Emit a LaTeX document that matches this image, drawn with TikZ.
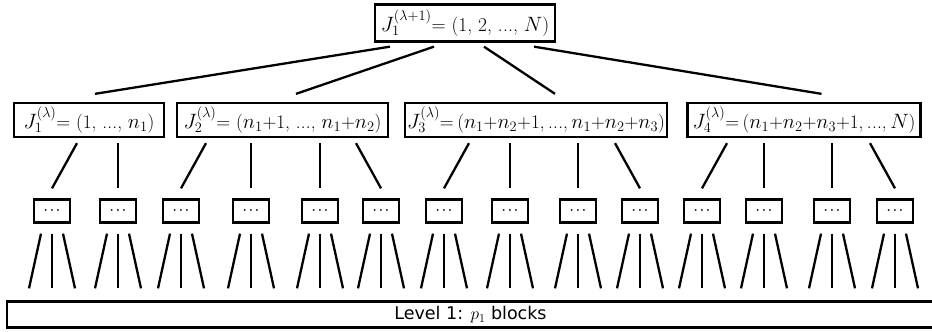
\documentclass[tikz,border=0pt]{standalone}
\usepackage{fontspec}
\newfontfamily\dejavu{DejaVu Sans}
\usetikzlibrary{calc}
\newcommand\tdots{.\kern0.3pt.\kern0.3pt.}
\newcommand\tightsp{\spaceskip=0.18em plus 0.05em\relax}
\begin{document}
\begin{tikzpicture}[x=1pt,y=-1pt, line width=2.3pt,
  box/.style={draw, line width=2.3pt, inner sep=0pt, font=\fontsize{19.2}{22}\selectfont},
  dotbox/.style={draw, line width=2.3pt, inner sep=0pt, minimum width=36pt, minimum height=23pt, font=\fontsize{12}{12}\selectfont\boldmath},
  conn/.style={line width=2.3pt}]
\useasboundingbox (0,0) rectangle (932,332);
\node[box, minimum width=180, minimum height=37, font=\fontsize{19.5}{22}\selectfont] (top) at (465,23) {$J_1^{(\lambda+1)}$= (1, 2, \tdots, $N$)};
\node[box, minimum width=150, minimum height=34] (b1) at (89,120) {$J_1^{(\lambda)}$= (1, \tdots, $n_1$)};
\node[box, minimum width=211, minimum height=34] (b2) at (282.5,120) {$J_2^{(\lambda)}$= ($n_1$+1, \tdots, $n_1$+$n_2$)};
\node[box, minimum width=262, minimum height=34] (b3) at (536,120) {\tightsp $J_3^{(\lambda)}$= ($n_1$+$n_2$+1, \tdots, $n_1$+$n_2$+$n_3$)};
\node[box, minimum width=233, minimum height=34] (b4) at (804,120) {\tightsp $J_4^{(\lambda)}$= ($n_1$+$n_2$+$n_3$+1, \tdots, $N$)};
\node[draw, line width=2.3pt, inner sep=0pt, minimum width=927, minimum height=26, font=\dejavu\fontsize{17.5}{20}\selectfont] (lvl) at (470.5,314.5) {Level 1: $p_1$ blocks};

\draw[conn] ($(top.south)+(-75,4)$) -- ($(b1.north)+(6,-8)$);
\draw[conn] ($(top.south)+(-31,4)$) -- ($(b2.north)+(13.5,-8)$);
\draw[conn] ($(top.south)+(19,4)$) -- ($(b3.north)+(19,-8)$);
\draw[conn] ($(top.south)+(69,4)$) -- ($(b4.north)+(17.5,-8)$);

\foreach \i/\x/\p/\d in {1/52/b1/25, 2/118/b1/0, 3/181/b2/25, 4/251/b2/0, 5/320/b2/0, 6/381/b2/-25, 7/444/b3/25, 8/510/b3/0, 9/578/b3/0, 10/640/b3/-25, 11/702/b4/25, 12/764/b4/0, 13/832/b4/0, 14/895/b4/-25} {
  \node[dotbox] (c\i) at (\x,211) {$\cdots$};
  \draw[conn] ($(\p.south -| c\i.north)+(\d,5)$) -- ($(c\i.north)+(0,-10)$);
  \foreach \a/\b in {-11/-23, 0/0, 11/23} {
    \draw[conn] ($(c\i.south)+(\a,10)$) -- ($(c\i.south |- lvl.north)+(\b,-12)$);
  }
}
\end{tikzpicture}
\end{document}
